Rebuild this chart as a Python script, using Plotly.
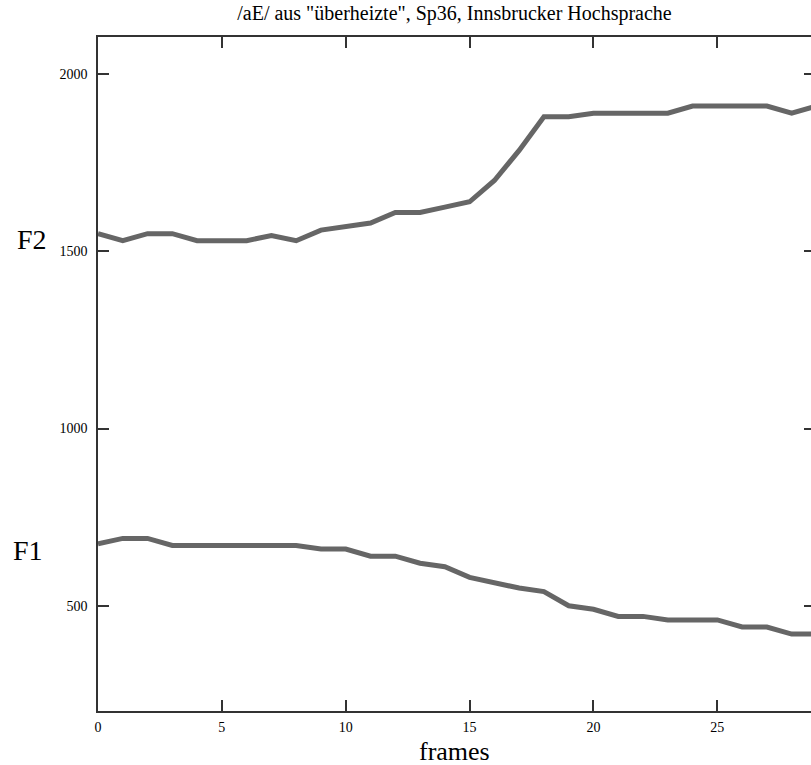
import plotly.graph_objects as go

frames = list(range(30))
f2 = [1550, 1530, 1550, 1550, 1530, 1530, 1530, 1545, 1530, 1560,
      1570, 1580, 1610, 1610, 1625, 1640, 1700, 1785, 1880, 1880,
      1890, 1890, 1890, 1890, 1910, 1910, 1910, 1910, 1890, 1910]
f1 = [675, 690, 690, 670, 670, 670, 670, 670, 670, 660,
      660, 640, 640, 620, 610, 580, 565, 550, 540, 500,
      490, 470, 470, 460, 460, 460, 440, 440, 420, 420]
xticks = [0, 5, 10, 15, 20, 25]
yticks = [500, 1000, 1500, 2000]
title = '/aE/ aus "überheizte", Sp36, Innsbrucker Hochsprache'

serif = "Liberation Serif"
line_col = "#666666"
axis_col = "#333333"
yrange = [203, 2105]
xrange_ = [0, 28.78]

fig = go.Figure()
fig.add_trace(go.Scatter(x=frames, y=f1, mode="lines", name="F1",
                         line=dict(color=line_col, width=5), hoverinfo="skip"))
fig.add_trace(go.Scatter(x=frames, y=f2, mode="lines", name="F2", yaxis="y2",
                         line=dict(color=line_col, width=5), hoverinfo="skip"))

fig.update_layout(
    width=811, height=765,
    margin=dict(l=98, r=0, t=37, b=54),
    paper_bgcolor="white", plot_bgcolor="white",
    showlegend=False,
    font=dict(family=serif, color="black"),
    title=dict(text=title, x=0.5, xref="paper", y=1 - 13 / 765, yref="container",
               xanchor="center", yanchor="middle",
               font=dict(family=serif, size=20, color="black")),
    xaxis=dict(range=xrange_, tickvals=xticks, ticks="inside", ticklen=11,
               tickcolor=axis_col, tickwidth=1.5,
               showline=True, linecolor=axis_col, linewidth=1.5, mirror="ticks",
               showgrid=False, zeroline=False,
               tickfont=dict(family=serif, size=14, color="black"),
               ticklabelstandoff=2),
    yaxis=dict(range=yrange, tickvals=yticks, ticks="inside", ticklen=11,
               tickcolor=axis_col, tickwidth=1.5,
               showline=True, linecolor=axis_col, linewidth=1.5,
               showgrid=False, zeroline=False,
               tickfont=dict(family=serif, size=14, color="black"),
               ticklabelstandoff=6),
    yaxis2=dict(range=yrange, tickvals=yticks, ticks="inside", ticklen=7,
                tickcolor=axis_col, tickwidth=1.5,
                overlaying="y", side="right", showline=False,
                showticklabels=False, showgrid=False, zeroline=False),
)

# pixel geometry of the plot area, used to place the free labels
pl, pt, pw, ph = 98, 37, 811 - 98, 765 - 37 - 54


def px_to_paper(px, py):
    return (px - pl) / pw, (pt + ph - py) / ph


labels = [("frames", 454.5, 751, 26), ("F2", 32, 239, 28), ("F1", 28, 550, 28)]
for text, px, py, size in labels:
    ax, ay = px_to_paper(px, py)
    fig.add_annotation(text=text, x=ax, y=ay, xref="paper", yref="paper",
                       showarrow=False, xanchor="center", yanchor="middle",
                       font=dict(family=serif, size=size, color="black"))

fig.write_html("out.html")
